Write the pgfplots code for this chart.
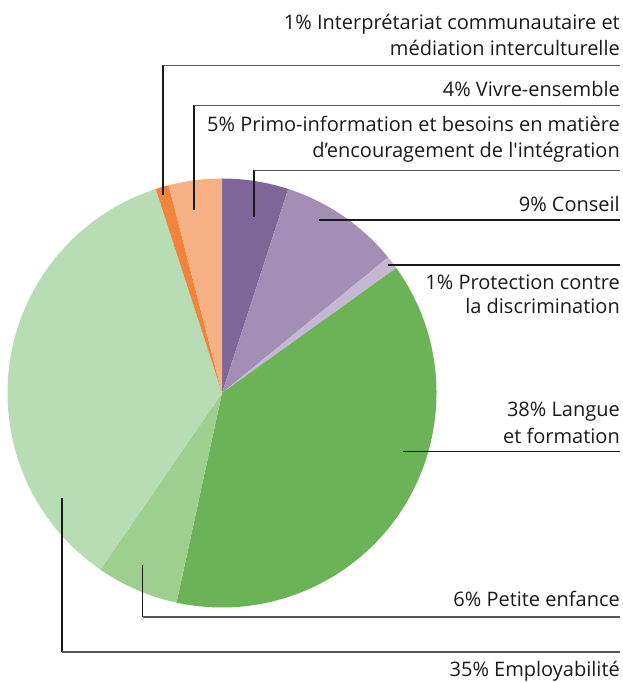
\documentclass[border=0pt]{standalone}
\usepackage{fontspec}
\setmainfont{Open Sans}
\usepackage{pgfplots}
\usepackage{pgfplotstable}
\pgfplotsset{compat=1.18}
\definecolor{cPrimo}{HTML}{7F6698}
\definecolor{cConseil}{HTML}{A38EB6}
\definecolor{cProt}{HTML}{C6B7D5}
\definecolor{cLangue}{HTML}{6CB257}
\definecolor{cPetite}{HTML}{9DD08F}
\definecolor{cEmploi}{HTML}{B8DDB5}
\definecolor{cInterp}{HTML}{F0843C}
\definecolor{cVivre}{HTML}{F5B083}
\definecolor{txt}{HTML}{1A1A1A}
\definecolor{hline}{HTML}{555555}
\definecolor{vline}{HTML}{1A1A1A}

% share of each field in percent, clockwise from 12 o'clock
\pgfplotstableread{
value color
5.0  cPrimo
9.1  cConseil
1.0  cProt
38.3 cLangue
6.2  cPetite
35.4 cEmploi
1.0  cInterp
4.0  cVivre
}\piedata

\begin{document}
\begin{tikzpicture}
\begin{axis}[hide axis, scale only axis, width=623pt, height=682pt,
  xmin=0, xmax=623, ymin=0, ymax=682, clip=false, anchor=south west, at={(0,0)}]
\def\cum{0}%
\pgfplotsforeachungrouped \i in {0,...,7}{%
  \pgfplotstablegetelem{\i}{value}\of\piedata \let\val\pgfplotsretval
  \pgfplotstablegetelem{\i}{color}\of\piedata \let\col\pgfplotsretval
  \pgfmathsetmacro\aS{90-3.6*\cum}%
  \pgfmathsetmacro\cum{\cum+\val}%
  \pgfmathsetmacro\aE{90-3.6*\cum}%
  \edef\temp{\noexpand\fill[\col] (axis cs:222,289) -- ++(\aS:214.5pt) arc[start angle=\aS, end angle=\aE, radius=214.5pt] -- cycle;}%
  \temp
}%
% leader lines
\draw[vline, line width=1.5pt] (axis cs:163,487) -- (axis cs:163,616.5);
\draw[hline, line width=1.5pt] (axis cs:163,616.5) -- (axis cs:620,616.5);
\draw[vline, line width=1.5pt] (axis cs:194,472) -- (axis cs:194,576.5);
\draw[hline, line width=1.5pt] (axis cs:194,576.5) -- (axis cs:620,576.5);
\draw[vline, line width=1.5pt] (axis cs:254,465) -- (axis cs:254,511.5);
\draw[hline, line width=1.5pt] (axis cs:254,511.5) -- (axis cs:620,511.5);
\draw[vline, line width=1.5pt] (axis cs:319,462) -- (axis cs:620,462);
\draw[vline, line width=1.5pt] (axis cs:388,417) -- (axis cs:620,417);
\draw[vline, line width=1.5pt] (axis cs:403,230.3) -- (axis cs:620,230.3);
\draw[vline, line width=1.5pt] (axis cs:142.5,117) -- (axis cs:142.5,65);
\draw[hline, line width=1.5pt] (axis cs:142.5,65) -- (axis cs:620,65);
\draw[vline, line width=1.5pt] (axis cs:62,184) -- (axis cs:62,30);
\draw[hline, line width=1.5pt] (axis cs:62,30) -- (axis cs:620,30);
% labels
\tikzset{lab/.style={anchor=base east, inner sep=0pt, text=txt, font=\fontsize{20}{24}\selectfont}}
\node[lab] at (axis cs:620,652.5) {1\% Interprétariat communautaire et};
\node[lab] at (axis cs:620,626.5) {médiation interculturelle};
\node[lab] at (axis cs:620,585) {4\% Vivre-ensemble};
\node[lab] at (axis cs:620,550.5) {5\% Primo-information et besoins en matière};
\node[lab] at (axis cs:620,524) {d’encouragement de l\textquotesingle intégration};
\node[lab] at (axis cs:620,470) {9\% Conseil};
\node[lab] at (axis cs:620,392) {1\% Protection contre};
\node[lab] at (axis cs:620,368) {la discrimination};
\node[lab] at (axis cs:620,265.3) {38\% Langue};
\node[lab] at (axis cs:620,238.7) {et formation};
\node[lab] at (axis cs:620,75.3) {6\% Petite enfance};
\node[lab] at (axis cs:620,5.3) {35\% Employabilité};
\end{axis}
\pgfresetboundingbox
\path (0,0) rectangle (623pt,682pt);
\end{tikzpicture}
\end{document}
